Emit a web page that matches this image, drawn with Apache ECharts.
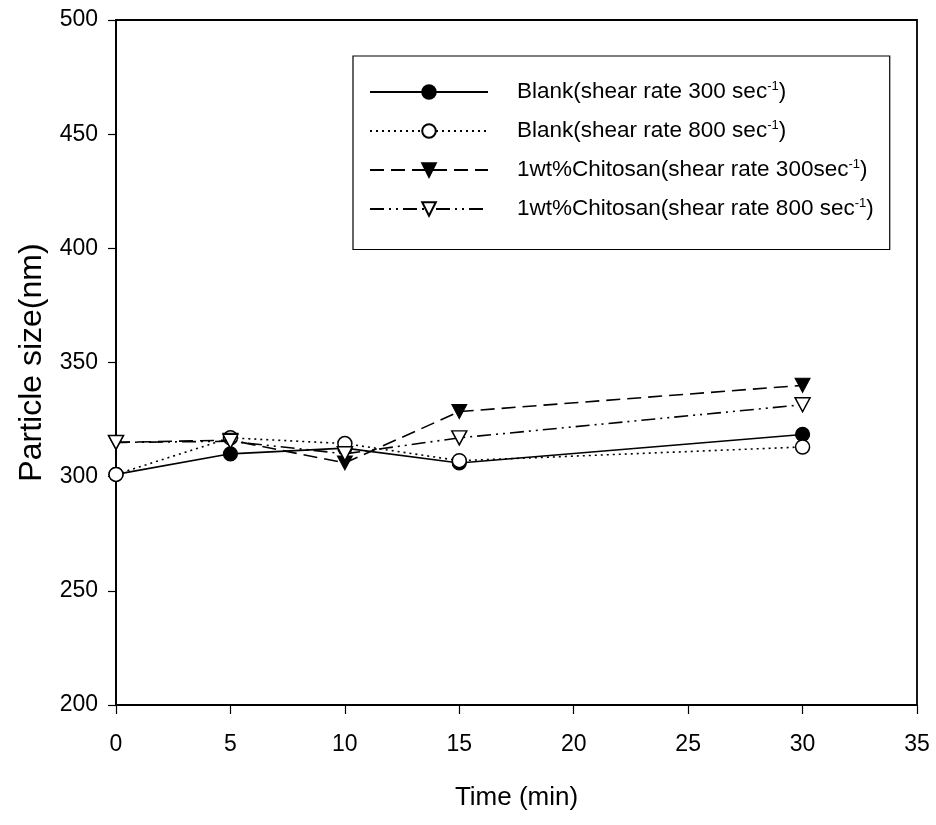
<!DOCTYPE html>
<html><head><meta charset="utf-8">
<script src="https://cdn.jsdelivr.net/npm/echarts@6/dist/echarts.min.js"></script>
<style>html,body{margin:0;padding:0;background:#fff}#c{width:936px;height:825px}</style>
</head><body><div id="c"></div>
<script>
var times = [0, 5, 10, 15, 30];
var blank300 = [301, 310, 312.5, 306, 318.5];
var blank800 = [301, 317, 314.5, 307, 313];
var chit300 = [315, 316, 306, 328.5, 340];
var chit800 = [315, 315.5, 310, 317, 331.5];
var seriesNames = [
  'Blank(shear rate 300 sec',
  'Blank(shear rate 800 sec',
  '1wt%Chitosan(shear rate 300sec',
  '1wt%Chitosan(shear rate 800 sec'
];
var xTicks = [0, 5, 10, 15, 20, 25, 30, 35];
var yTicks = [200, 250, 300, 350, 400, 450, 500];

function pairs(arr){ return times.map(function(t,i){ return [t, arr[i]]; }); }
var FONT = 'Liberation Sans, Arial, sans-serif';
var tri = 'path://M0,0 L10,0 L5,9 Z';

var chart = echarts.init(document.getElementById('c'));
chart.setOption({
  animation: false,
  backgroundColor: '#fff',
  grid: { left: 116, right: 19, top: 20, bottom: 120, show: true, borderColor: '#000', borderWidth: 1.8, backgroundColor: 'transparent' },
  xAxis: {
    type: 'value', min: xTicks[0], max: xTicks[xTicks.length-1], interval: 5,
    name: 'Time (min)', nameLocation: 'middle', nameGap: 80,
    nameTextStyle: { fontFamily: FONT, fontSize: 26, color: '#000' },
    axisLine: { show: true, lineStyle: { color: '#000', width: 1.8 } },
    axisTick: { show: true, inside: false, length: 9, lineStyle: { color: '#000', width: 1.2 } },
    axisLabel: { fontFamily: FONT, fontSize: 23, color: '#000', margin: 28 },
    splitLine: { show: false }
  },
  yAxis: {
    type: 'value', min: yTicks[0], max: yTicks[yTicks.length-1], interval: 50,
    name: 'Particle size(nm)', nameLocation: 'middle', nameGap: 68, nameRotate: 90,
    nameTextStyle: { fontFamily: FONT, fontSize: 32, color: '#000' },
    axisLine: { show: true, lineStyle: { color: '#000', width: 1.8 } },
    axisTick: { show: true, inside: false, length: 8, lineStyle: { color: '#000', width: 1.2 } },
    axisLabel: { fontFamily: FONT, fontSize: 23, color: '#000', margin: 18 },
    splitLine: { show: false }
  },
  legend: {
    orient: 'vertical', left: 353, top: 56,
    backgroundColor: '#fff',
    borderColor: '#000', borderWidth: 1.2,
    padding: [24, 16, 29, 16],
    itemWidth: 118, itemHeight: 17, itemGap: 15.5,
    textStyle: {
      fontFamily: FONT, fontSize: 22.5, color: '#000', padding: [0,0,0,24],
      rich: {
        a: { fontFamily: FONT, fontSize: 22.5, color: '#000', lineHeight: 24 },
        sup: { fontFamily: FONT, fontSize: 13, color: '#000', lineHeight: 13, verticalAlign: 'top' }
      }
    },
    formatter: function(n){ return '{a|' + n + '}{sup|-1}{a|)}'; },
    data: seriesNames
  },
  series: [
    { name: seriesNames[0], type: 'line', data: pairs(blank300), symbol: 'circle', symbolSize: 14,
      lineStyle: { color: '#000', width: 1.6, type: 'solid' },
      itemStyle: { color: '#000', borderColor: '#000', borderWidth: 1.2 }, z: 2 },
    { name: seriesNames[1], type: 'line', data: pairs(blank800), symbol: 'circle', symbolSize: 14,
      lineStyle: { color: '#000', width: 1.6, type: [2, 4] },
      itemStyle: { color: '#fff', borderColor: '#000', borderWidth: 1.5 }, z: 3 },
    { name: seriesNames[2], type: 'line', data: pairs(chit300), symbol: tri, symbolSize: [15, 14],
      lineStyle: { color: '#000', width: 1.6, type: [14, 7] },
      itemStyle: { color: '#000', borderColor: '#000', borderWidth: 1 }, z: 4 },
    { name: seriesNames[3], type: 'line', data: pairs(chit800), symbol: tri, symbolSize: [15, 14],
      lineStyle: { color: '#000', width: 1.6, type: [14, 5, 2, 5, 2, 5] },
      itemStyle: { color: '#fff', borderColor: '#000', borderWidth: 1.5 }, z: 5 }
  ]
});
</script></body></html>
